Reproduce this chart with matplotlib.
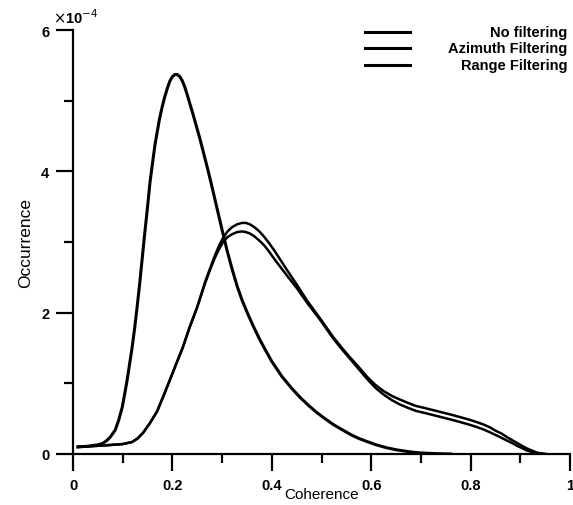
import matplotlib
matplotlib.use("Agg")
import matplotlib.pyplot as plt
from matplotlib.ticker import MultipleLocator

plt.rcParams['font.family'] = ['Liberation Sans', 'DejaVu Sans']

# occurrence values are in units of 1e-4
coh_none = [0.010, 0.030, 0.050, 0.060, 0.068, 0.075, 0.080, 0.085, 0.092, 0.099,
            0.104, 0.109, 0.114, 0.119, 0.124, 0.129, 0.134, 0.139, 0.144, 0.150,
            0.155, 0.161, 0.165, 0.170, 0.174, 0.179, 0.184, 0.190, 0.195, 0.200,
            0.205, 0.210, 0.215, 0.220, 0.225, 0.230, 0.235, 0.241, 0.247, 0.255,
            0.262, 0.270, 0.278, 0.285, 0.292, 0.300, 0.310, 0.320, 0.330, 0.340,
            0.350, 0.362, 0.375, 0.388, 0.400, 0.420, 0.440, 0.457, 0.475, 0.490,
            0.505, 0.523, 0.540, 0.560, 0.575, 0.590, 0.610, 0.630, 0.650, 0.678,
            0.700, 0.730, 0.760]
occ_none = [0.10, 0.11, 0.13, 0.15, 0.19, 0.24, 0.29, 0.34, 0.48, 0.66,
            0.85, 1.05, 1.28, 1.51, 1.78, 2.08, 2.40, 2.75, 3.10, 3.50,
            3.85, 4.17, 4.38, 4.58, 4.74, 4.90, 5.04, 5.18, 5.28, 5.34,
            5.37, 5.37, 5.34, 5.28, 5.19, 5.08, 4.96, 4.82, 4.67, 4.47,
            4.28, 4.06, 3.83, 3.62, 3.41, 3.17, 2.88, 2.62, 2.38, 2.18,
            2.01, 1.82, 1.63, 1.46, 1.31, 1.10, 0.93, 0.80, 0.68, 0.59,
            0.51, 0.42, 0.35, 0.27, 0.22, 0.18, 0.13, 0.09, 0.06, 0.03,
            0.015, 0.005, 0.00]

coh_filt = [0.010, 0.060, 0.100, 0.119, 0.130, 0.141, 0.155, 0.169, 0.182, 0.195,
            0.208, 0.221, 0.235, 0.250, 0.258, 0.266, 0.276, 0.285, 0.294, 0.302,
            0.311, 0.320, 0.330, 0.340, 0.348, 0.356, 0.365, 0.375, 0.385, 0.395,
            0.405, 0.418, 0.430, 0.450, 0.471, 0.497, 0.523, 0.540, 0.557, 0.575,
            0.592, 0.608, 0.625, 0.642, 0.658, 0.675, 0.690, 0.708, 0.725, 0.742,
            0.759, 0.780, 0.800, 0.813, 0.825, 0.838, 0.850, 0.862, 0.873, 0.885,
            0.895, 0.905, 0.913, 0.923, 0.933, 0.942, 0.950]
occ_azimuth = [0.10, 0.12, 0.14, 0.17, 0.22, 0.30, 0.44, 0.60, 0.82, 1.05,
               1.28, 1.51, 1.80, 2.08, 2.26, 2.44, 2.63, 2.80, 2.95, 3.06,
               3.15, 3.21, 3.25, 3.27, 3.27, 3.25, 3.21, 3.15, 3.07, 2.98,
               2.88, 2.74, 2.61, 2.40, 2.17, 1.92, 1.66, 1.51, 1.37, 1.23,
               1.09, 0.98, 0.89, 0.82, 0.77, 0.72, 0.68, 0.65, 0.62, 0.59,
               0.56, 0.52, 0.48, 0.45, 0.42, 0.38, 0.33, 0.29, 0.24, 0.19,
               0.15, 0.11, 0.08, 0.05, 0.02, 0.01, 0.00]
occ_range = [0.10, 0.12, 0.14, 0.17, 0.22, 0.30, 0.44, 0.60, 0.82, 1.05,
             1.28, 1.51, 1.80, 2.08, 2.25, 2.42, 2.61, 2.77, 2.90, 3.00,
             3.07, 3.11, 3.14, 3.15, 3.14, 3.12, 3.08, 3.02, 2.95, 2.86,
             2.76, 2.64, 2.53, 2.35, 2.14, 1.90, 1.64, 1.49, 1.35, 1.20,
             1.06, 0.94, 0.84, 0.76, 0.70, 0.65, 0.61, 0.58, 0.55, 0.52,
             0.49, 0.45, 0.41, 0.38, 0.35, 0.31, 0.27, 0.23, 0.19, 0.15,
             0.11, 0.08, 0.05, 0.03, 0.01, 0.00, 0.00]

labels = ["No filtering", "Azimuth Filtering", "Range Filtering"]

fig = plt.figure(figsize=(5.73, 5.06), dpi=100)
ax = fig.add_axes([0.1274, 0.1008, 0.8674, 0.8379])

ax.plot(coh_none, occ_none, color='black', lw=2.2, solid_joinstyle='round')
ax.plot(coh_filt, occ_azimuth, color='black', lw=1.8, solid_joinstyle='round')
ax.plot(coh_filt, occ_range, color='black', lw=1.8, solid_joinstyle='round')

ax.set_xlim(0, 1)
ax.set_ylim(0, 6)
ax.xaxis.set_minor_locator(MultipleLocator(0.1))
ax.yaxis.set_minor_locator(MultipleLocator(1))
ax.set_xticks([0, 0.2, 0.4, 0.6, 0.8, 1.0])
ax.set_xticklabels(["0", "0.2", "0.4", "0.6", "0.8", "1"])
ax.set_yticks([0, 2, 4, 6])
ax.set_yticklabels(["0", "2", "4", "6"])

for s in ['top', 'right']:
    ax.spines[s].set_visible(False)
for s in ['left', 'bottom']:
    ax.spines[s].set_linewidth(1.6)

ax.tick_params(which='major', direction='out', length=12, width=1.6, labelsize=10.5)
ax.tick_params(which='minor', direction='out', length=6.5, width=1.6)
ax.tick_params(axis='x', which='major', pad=5)
ax.tick_params(axis='y', which='major', pad=5)
for t in ax.get_xticklabels() + ax.get_yticklabels():
    t.set_fontweight('bold')

ax.set_xlabel("Coherence", fontsize=11, labelpad=-3)
ax.set_ylabel("Occurrence", fontsize=12.5, labelpad=6)

ax.text(-0.04, 1.01, r"$\times$10$^{-4}$", transform=ax.transAxes,
        fontsize=10.5, fontweight='bold', ha='left', va='bottom')

# legend drawn by hand so the text is right aligned like the original
leg_y = [0.995, 0.958, 0.917]
for lab, yy in zip(labels, leg_y):
    ax.plot([0.588, 0.678], [yy, yy], color='black', lw=2.2,
            transform=ax.transAxes, clip_on=False)
    ax.text(0.994, yy, lab, transform=ax.transAxes, ha='right', va='center',
            fontsize=10.5, fontweight='bold')

fig.savefig("out.png", dpi=100)
